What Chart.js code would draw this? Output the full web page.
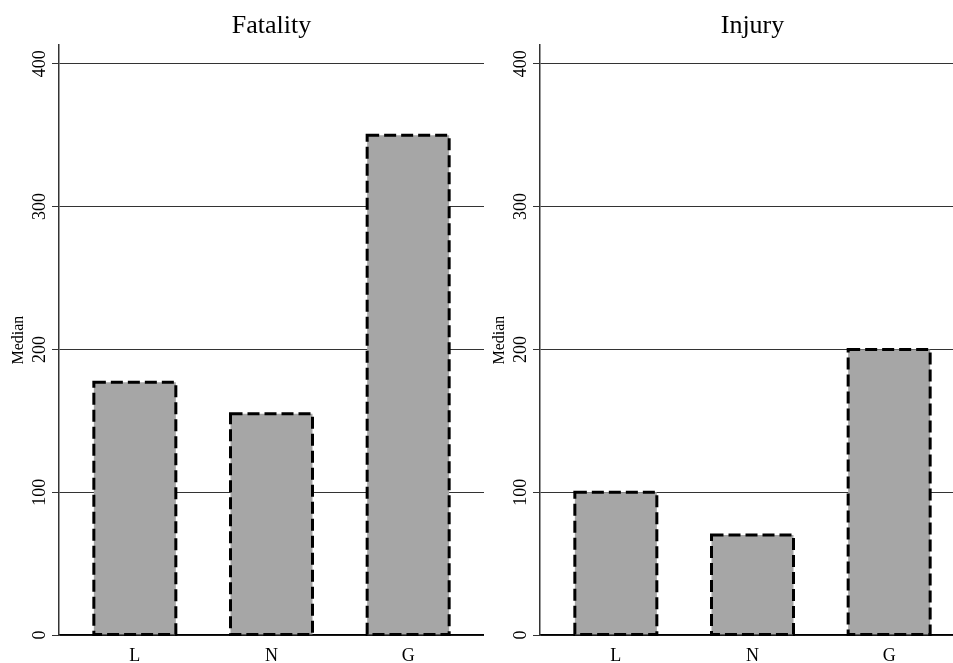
<!DOCTYPE html>
<html>
<head>
<meta charset="utf-8">
<title>Median by group</title>
<script src="https://cdn.jsdelivr.net/npm/chart.js@4.4.1/dist/chart.umd.min.js"></script>
<style>
    html, body {
        margin: 0;
        padding: 0;
        width: 953px;
        height: 663px;
        overflow: hidden;
        background: #ffffff;
    }

    .panel {
        position: absolute;
        top: 0;
    }
</style>
</head>
<body>

<canvas id="fatalityChart" class="panel" width="484" height="663" style="left:0px"></canvas>
<canvas id="injuryChart" class="panel" width="484" height="663" style="left:481px"></canvas>

<script>
/* ===============================
   Data
=============================== */

const categories = ["L", "N", "G"];

const fatalityValues = [177, 155, 350];

const injuryValues = [100, 70, 200];

const yTicks = [0, 100, 200, 300, 400];

const serif = "'Liberation Serif', 'Times New Roman', serif";

/* ===============================
   Dashed bar outline + rotated y labels
=============================== */

const dashedBars = {
    id: "dashedBars",
    afterDatasetsDraw(chart) {
        const ctx = chart.ctx;
        const meta = chart.getDatasetMeta(0);
        ctx.save();
        ctx.strokeStyle = "#000000";
        ctx.lineWidth = 3;
        ctx.setLineDash([12, 5]);
        meta.data.forEach(function (bar) {
            const p = bar.getProps(["x", "y", "base", "width"], true);
            ctx.strokeRect(p.x - p.width / 2, p.y, p.width, p.base - p.y);
        });
        ctx.restore();
    }
};

const rotatedTicks = {
    id: "rotatedTicks",
    afterDraw(chart) {
        const ctx = chart.ctx;
        const scale = chart.scales.y;
        ctx.save();
        ctx.fillStyle = "#000000";
        ctx.font = "18px " + serif;
        ctx.textAlign = "center";
        ctx.textBaseline = "alphabetic";
        yTicks.forEach(function (v) {
            const y = scale.getPixelForValue(v);
            ctx.save();
            ctx.translate(scale.right - 14, y);
            ctx.rotate(-Math.PI / 2);
            ctx.fillText(String(v), 0, 0);
            ctx.restore();
        });
        ctx.restore();
    }
};

/* ===============================
   Panel builder
=============================== */

function makePanel(canvasId, title, values) {

    const el = document.getElementById(canvasId);

    return new Chart(el, {

        type: "bar",

        data: {
            datasets: [
                {
                    data: values.map(function (v, i) {
                        return { x: i, y: v };
                    }),
                    backgroundColor: "#a6a6a6",
                    borderWidth: 0,
                    barPercentage: 0.6,
                    categoryPercentage: 1
                }
            ]
        },

        options: {
            responsive: false,
            animation: false,
            layout: {
                padding: 0
            },
            plugins: {
                legend: { display: false },
                tooltip: { enabled: false },
                title: {
                    display: true,
                    text: title,
                    fullSize: false,
                    color: "#000000",
                    font: { family: serif, size: 26, weight: "normal" },
                    padding: { top: 11, bottom: 3 }
                }
            },
            scales: {
                x: {
                    type: "linear",
                    min: -0.555,
                    max: 2.555,
                    offset: false,
                    afterBuildTicks: function (axis) {
                        axis.ticks = categories.map(function (c, i) {
                            return { value: i };
                        });
                    },
                    afterFit: function (axis) {
                        axis.height = 28;
                    },
                    grid: { display: false, drawTicks: false, offset: false },
                    border: { display: true, color: "#000000", width: 1.5 },
                    ticks: {
                        padding: 10,
                        color: "#000000",
                        font: { family: serif, size: 18 },
                        callback: function (value) {
                            return categories[value];
                        }
                    }
                },
                y: {
                    min: 0,
                    max: 413,
                    afterBuildTicks: function (axis) {
                        axis.ticks = yTicks.map(function (v) {
                            return { value: v };
                        });
                    },
                    afterFit: function (axis) {
                        axis.width = 59;
                    },
                    grid: {
                        color: "#333333",
                        lineWidth: 1,
                        drawTicks: true,
                        tickLength: 7
                    },
                    border: { display: true, color: "#333333", width: 1.5 },
                    ticks: { display: false },
                    title: {
                        display: true,
                        text: "Median",
                        color: "#000000",
                        font: { family: serif, size: 16 },
                        padding: { top: 9, bottom: 0 }
                    }
                }
            }
        },

        plugins: [dashedBars, rotatedTicks]

    });

}

document.addEventListener("DOMContentLoaded", function () {

    makePanel("fatalityChart", "Fatality", fatalityValues);

    makePanel("injuryChart", "Injury", injuryValues);

});
</script>

</body>
</html>
